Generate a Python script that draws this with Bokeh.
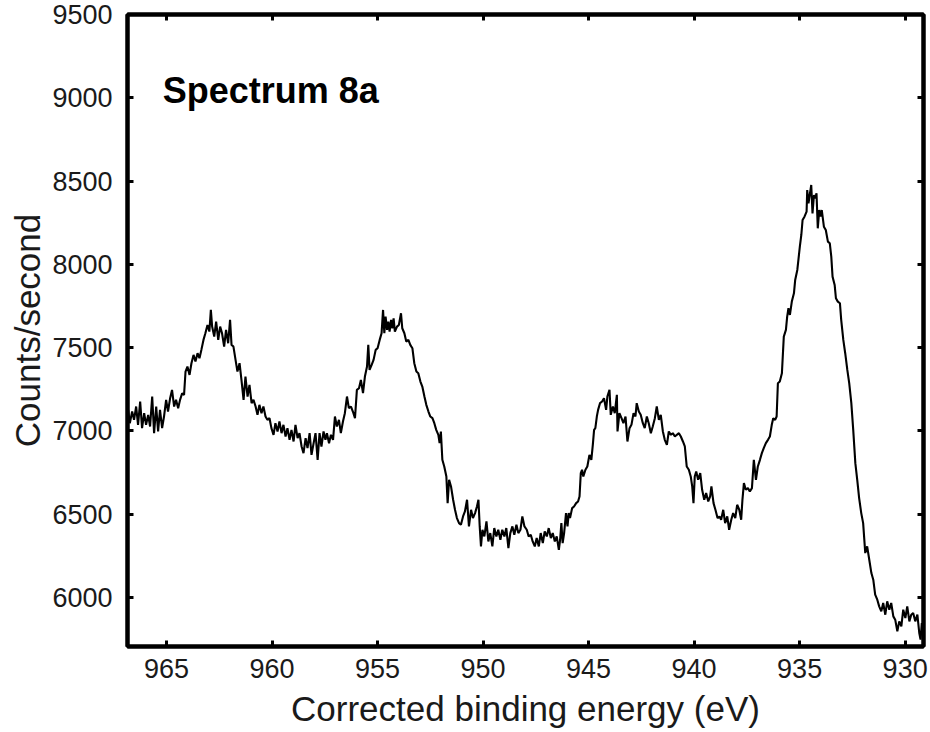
from bokeh.plotting import figure
from bokeh.models import (Range1d, FixedTicker, LinearAxis, Label,
                          CustomJSTickFormatter, ColumnDataSource)
from bokeh.embed import file_html
from bokeh.resources import INLINE

# ---------------- data ----------------
# Segment A: 967 -> 957.5 eV
energy_a = [
    966.82, 966.74, 966.63, 966.54, 966.44, 966.35, 966.25, 966.16, 966.06, 965.97,
    965.87, 965.78, 965.68, 965.59, 965.49, 965.40, 965.31, 965.21, 965.12, 965.02,
    964.93, 964.83, 964.74, 964.64, 964.55, 964.45, 964.36, 964.26, 964.17, 964.10,
    964.01, 963.91, 963.82, 963.72, 963.63, 963.53, 963.44, 963.35, 963.25, 963.16,
    963.06, 962.97, 962.90, 962.84, 962.74, 962.65, 962.55, 962.46, 962.37, 962.27,
    962.18, 962.08, 961.99, 961.92, 961.83, 961.73, 961.64, 961.54, 961.45, 961.35,
    961.26, 961.16, 961.07, 960.97, 960.88, 960.78, 960.69, 960.60, 960.50, 960.41,
    960.31, 960.22, 960.12, 960.03, 959.93, 959.84, 959.74, 959.65, 959.55, 959.46,
    959.36, 959.27, 959.17, 959.08, 958.98, 958.89, 958.79, 958.70, 958.60, 958.51,
    958.41, 958.32, 958.22, 958.13, 958.03, 957.94, 957.84, 957.75, 957.66, 957.56, 957.47,
]
counts_a = [
    7126, 7046, 7116, 7066, 7146, 7036, 7176, 7016, 7106, 7036,
    7096, 7026, 7206, 6986, 7146, 6996, 7126, 7016, 7086, 7186,
    7116, 7196, 7246, 7146, 7186, 7136, 7186, 7226, 7216, 7356,
    7386, 7336, 7406, 7456, 7416, 7466, 7436, 7486, 7546, 7586,
    7636, 7596, 7726, 7626, 7566, 7656, 7546, 7626, 7586, 7506,
    7606, 7526, 7666, 7516, 7506, 7426, 7356, 7406, 7306, 7186,
    7326, 7206, 7276, 7166, 7186, 7146, 7096, 7156, 7106, 7146,
    7086, 7066, 7076, 7016, 6976, 7046, 6996, 7056, 6986, 7036,
    6966, 7016, 6946, 7006, 6936, 7036, 6956, 6986, 6906, 6866,
    6956, 6896, 6986, 6856, 6926, 6986, 6826, 6986, 6906, 6996, 6946,
]

# Segment B: 957.4 -> 948.0 eV
energy_b = [
    957.40, 957.30, 957.21, 957.11, 957.02, 956.93, 956.83, 956.74, 956.64, 956.55,
    956.45, 956.36, 956.26, 956.17, 956.07, 955.98, 955.88, 955.79, 955.69, 955.60,
    955.50, 955.44, 955.38, 955.28, 955.19, 955.09, 955.00, 954.90, 954.81, 954.74,
    954.68, 954.62, 954.55, 954.49, 954.43, 954.36, 954.30, 954.24, 954.18, 954.08,
    953.99, 953.89, 953.83, 953.73, 953.64, 953.54, 953.45, 953.35, 953.26, 953.16,
    953.07, 952.97, 952.88, 952.78, 952.69, 952.59, 952.50, 952.40, 952.31, 952.22,
    952.12, 952.06, 952.00, 951.93, 951.84, 951.74, 951.68, 951.61, 951.52, 951.42,
    951.33, 951.24, 951.14, 951.05, 950.95, 950.86, 950.76, 950.67, 950.57, 950.48,
    950.38, 950.29, 950.22, 950.16, 950.10, 950.03, 949.94, 949.84, 949.75, 949.66,
    949.56, 949.47, 949.37, 949.28, 949.18, 949.09, 948.99, 948.90, 948.80, 948.71,
    948.61, 948.52, 948.42, 948.33, 948.23, 948.14, 948.04,
]
counts_b = [
    6986, 6926, 6976, 6946, 7086, 7026, 7066, 6986, 7056, 7106,
    7206, 7136, 7146, 7116, 7076, 7246, 7256, 7306, 7226, 7326,
    7386, 7516, 7366, 7396, 7426, 7486, 7496, 7546, 7586, 7726,
    7586, 7686, 7606, 7656, 7596, 7666, 7616, 7676, 7596, 7626,
    7636, 7706, 7616, 7586, 7536, 7546, 7516, 7496, 7406, 7356,
    7346, 7296, 7266, 7206, 7156, 7116, 7086, 7076, 7046, 7006,
    6976, 6926, 6996, 6826, 6786, 6726, 6566, 6706, 6666, 6586,
    6526, 6476, 6446, 6436, 6486, 6516, 6586, 6426, 6526, 6476,
    6506, 6546, 6586, 6426, 6306, 6406, 6366, 6456, 6336, 6386,
    6306, 6416, 6366, 6406, 6346, 6406, 6366, 6416, 6296, 6386,
    6426, 6376, 6436, 6386, 6406, 6486, 6426,
]

# Segment C: 947.9 -> 938.8 eV
energy_c = [
    947.93, 947.84, 947.74, 947.65, 947.55, 947.46, 947.36, 947.27, 947.17, 947.08,
    946.98, 946.89, 946.79, 946.70, 946.60, 946.51, 946.41, 946.35, 946.29, 946.23,
    946.16, 946.07, 946.00, 945.94, 945.88, 945.78, 945.69, 945.59, 945.50, 945.43,
    945.37, 945.31, 945.25, 945.15, 945.06, 944.96, 944.87, 944.80, 944.74, 944.68,
    944.61, 944.55, 944.46, 944.36, 944.27, 944.17, 944.11, 944.01, 943.95, 943.85,
    943.76, 943.66, 943.63, 943.54, 943.44, 943.35, 943.25, 943.16, 943.06, 942.97,
    942.87, 942.78, 942.72, 942.62, 942.53, 942.43, 942.34, 942.24, 942.15, 942.05,
    941.96, 941.86, 941.77, 941.67, 941.58, 941.48, 941.39, 941.29, 941.20, 941.10,
    941.01, 940.91, 940.82, 940.72, 940.63, 940.53, 940.44, 940.35, 940.25, 940.16,
    940.09, 940.03, 939.97, 939.90, 939.81, 939.71, 939.62, 939.52, 939.43, 939.33,
    939.24, 939.18, 939.08, 938.99, 938.89, 938.80,
]
counts_c = [
    6406, 6366, 6376, 6336, 6306, 6356, 6306, 6386, 6326, 6396,
    6366, 6416, 6356, 6386, 6336, 6366, 6286, 6346, 6446, 6326,
    6386, 6506, 6426, 6506, 6476, 6536, 6546, 6566, 6576, 6606,
    6746, 6766, 6726, 6766, 6786, 6856, 6826, 6916, 7006, 7016,
    7086, 7126, 7166, 7176, 7196, 7126, 7206, 7246, 7096, 7146,
    7106, 7216, 6996, 7106, 7076, 7046, 7086, 6936, 7016, 7036,
    7106, 7086, 7166, 7116, 7096, 7046, 7016, 7086, 7046, 6986,
    7026, 7076, 7146, 7066, 7096, 6996, 6946, 6916, 6996, 6976,
    6986, 6966, 6976, 6986, 6966, 6936, 6906, 6786, 6766, 6726,
    6666, 6566, 6726, 6756, 6706, 6746, 6646, 6586, 6626, 6576,
    6606, 6666, 6566, 6526, 6476, 6486,
]

# Segment D: 938.7 -> 929.2 eV
energy_d = [
    938.72, 938.62, 938.53, 938.43, 938.34, 938.24, 938.15, 938.05, 937.96, 937.86,
    937.77, 937.71, 937.64, 937.55, 937.45, 937.36, 937.26, 937.17, 937.07, 936.98,
    936.88, 936.79, 936.70, 936.60, 936.50, 936.41, 936.32, 936.25, 936.16, 936.09,
    936.03, 935.94, 935.84, 935.75, 935.65, 935.59, 935.53, 935.46, 935.37, 935.27,
    935.21, 935.11, 935.05, 934.99, 934.92, 934.86, 934.77, 934.67, 934.64, 934.58,
    934.51, 934.45, 934.39, 934.32, 934.26, 934.20, 934.14, 934.07, 934.01, 933.95,
    933.85, 933.76, 933.66, 933.57, 933.50, 933.44, 933.34, 933.28, 933.19, 933.09,
    933.03, 932.93, 932.84, 932.74, 932.65, 932.55, 932.46, 932.36, 932.27, 932.18,
    932.08, 931.99, 931.89, 931.80, 931.70, 931.60, 931.51, 931.42, 931.32, 931.23,
    931.13, 931.04, 930.94, 930.85, 930.75, 930.66, 930.56, 930.47, 930.37, 930.28,
    930.18, 930.09, 929.99, 929.90, 929.80, 929.71, 929.62, 929.52, 929.42, 929.33,
    929.27, 929.21,
]
counts_d = [
    6466, 6526, 6446, 6486, 6406, 6466, 6506, 6476, 6556, 6526,
    6466, 6586, 6686, 6646, 6656, 6636, 6656, 6826, 6706, 6786,
    6826, 6866, 6896, 6926, 6946, 6966, 7036, 7076, 7066, 7086,
    7286, 7296, 7346, 7566, 7606, 7686, 7736, 7696, 7776, 7826,
    7906, 7966, 8036, 8106, 8176, 8266, 8286, 8316, 8446, 8366,
    8426, 8476, 8306, 8416, 8396, 8426, 8216, 8326, 8286, 8326,
    8226, 8206, 8136, 8126, 8046, 7926, 7876, 7796, 7776, 7766,
    7666, 7546, 7466, 7366, 7286, 7166, 7006, 6806, 6706, 6596,
    6506, 6446, 6266, 6306, 6226, 6146, 6106, 6016, 5986, 5946,
    5916, 5966, 5896, 5976, 5926, 5966, 5886, 5866, 5796, 5856,
    5826, 5926, 5876, 5946, 5856, 5896, 5906, 5856, 5896, 5786,
    5746, 5846,
]

x_ticks = [965, 960, 955, 950, 945, 940, 935, 930]
y_ticks = [6000, 6500, 7000, 7500, 8000, 8500, 9000, 9500]
x_label = "Corrected binding energy (eV)"
y_label = "Counts/second"
title_text = "Spectrum 8a"

# ---------------- figure ----------------
FONT = "Liberation Sans"
TXT = "#1a1a1a"

energy = energy_a + energy_b + energy_c + energy_d
counts = counts_a + counts_b + counts_c + counts_d
src = ColumnDataSource(data=dict(energy=energy, counts=counts))

p = figure(width=930, height=732, output_backend="svg", toolbar_location=None,
           x_range=Range1d(966.85, 929.13), y_range=Range1d(5705, 9500),
           min_border_left=127, min_border_right=7, min_border_top=14,
           min_border_bottom=86)
p.xgrid.visible = False
p.ygrid.visible = False
p.outline_line_color = "black"
p.outline_line_width = 4
p.background_fill_color = "white"
p.border_fill_color = "white"

p.line(x="energy", y="counts", source=src, line_color="black", line_width=2.1)

xa = p.xaxis[0]
ya = p.yaxis[0]
xa.ticker = FixedTicker(ticks=x_ticks)
ya.ticker = FixedTicker(ticks=y_ticks)
xa.axis_label = x_label
ya.axis_label = y_label
for ax in (xa, ya):
    ax.axis_line_width = 4
    ax.axis_line_color = "black"
    ax.major_tick_in = 6
    ax.major_tick_out = 0
    ax.major_tick_line_width = 3
    ax.minor_tick_line_color = None
    ax.major_label_text_font = FONT
    ax.major_label_text_font_size = "27px"
    ax.major_label_text_color = TXT
    ax.axis_label_text_font = FONT
    ax.axis_label_text_font_size = "35px"
    ax.axis_label_text_font_style = "normal"
    ax.axis_label_text_color = TXT
xa.major_label_standoff = 12
xa.axis_label_standoff = 8
ya.major_label_standoff = 15
ya.axis_label_standoff = 2

top_ax = LinearAxis(ticker=FixedTicker(ticks=x_ticks),
                    formatter=CustomJSTickFormatter(code="return ''"))
right_ax = LinearAxis(ticker=FixedTicker(ticks=y_ticks),
                      formatter=CustomJSTickFormatter(code="return ''"))
for ax in (top_ax, right_ax):
    ax.axis_line_width = 4
    ax.axis_line_color = "black"
    ax.major_tick_in = 6
    ax.major_tick_out = 0
    ax.major_tick_line_width = 3
    ax.minor_tick_line_color = None
    ax.major_label_standoff = 0
    ax.major_label_text_font_size = "1px"
p.add_layout(top_ax, "above")
p.add_layout(right_ax, "right")

p.add_layout(Label(x=965.18, y=9046, text=title_text, text_font=FONT,
                   text_font_style="bold", text_font_size="36px",
                   text_color="black", text_baseline="alphabetic",
                   text_align="left"))

open("out.html", "w").write(file_html(p, INLINE))
